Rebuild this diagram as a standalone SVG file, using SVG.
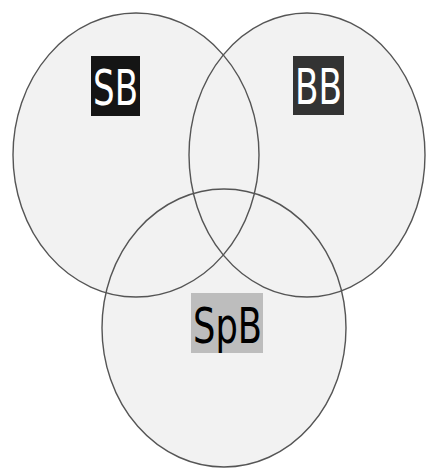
<svg xmlns="http://www.w3.org/2000/svg" width="426" height="468" viewBox="0 0 426 468">
<style>
.f{fill:#f2f2f2;stroke:none}
.s{fill:none;stroke:#555;stroke-width:1.4}
.t{font-family:"DejaVu Sans Condensed","DejaVu Sans",sans-serif;font-size:50px}
</style>
<defs>
<ellipse id="e1" cx="136" cy="155" rx="123" ry="142"/>
<ellipse id="e2" cx="307" cy="155" rx="118" ry="142"/>
<ellipse id="e3" cx="224" cy="328" rx="122" ry="139"/>
</defs>
<rect width="426" height="468" fill="#fff"/>
<g id="circles">
<use href="#e1" class="f"/>
<use href="#e2" class="f"/>
<use href="#e3" class="f"/>
<use href="#e1" class="s"/>
<use href="#e2" class="s"/>
<use href="#e3" class="s"/>
</g>
<g id="connectors"/>
<g id="sb">
<rect x="91" y="56" width="49" height="60" fill="#151515"/>
<text class="t" x="93" y="105" fill="#fff" textLength="45" lengthAdjust="spacingAndGlyphs">SB</text>
</g>
<g id="bb">
<rect x="293" y="56" width="51" height="59" fill="#333"/>
<text class="t" x="295" y="104" fill="#fff" textLength="47" lengthAdjust="spacingAndGlyphs">BB</text>
</g>
<g id="spb">
<rect x="191" y="293" width="72" height="60" fill="#bdbdbd"/>
<text class="t" x="193" y="343" fill="#000" textLength="69" lengthAdjust="spacingAndGlyphs">SpB</text>
</g>
</svg>
